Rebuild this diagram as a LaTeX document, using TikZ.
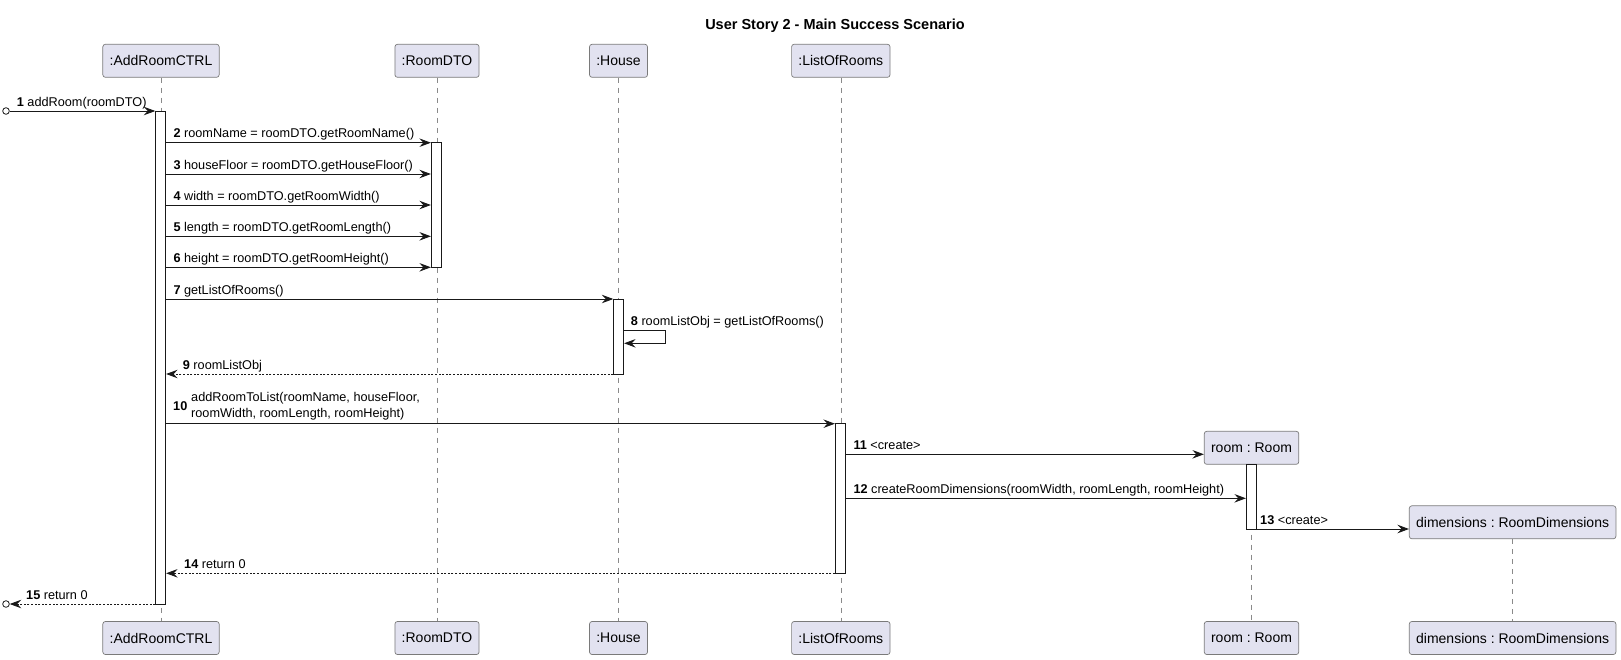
\documentclass[tikz,border=0pt]{standalone}
\usepackage{fontspec}
\setmainfont{Liberation Sans}
\usetikzlibrary{arrows.meta}
\definecolor{partfill}{HTML}{E2E2F0}
\definecolor{partline}{HTML}{7A7A7A}
\definecolor{lifecol}{HTML}{8A8A8A}
\frenchspacing
\begin{document}
\begin{tikzpicture}[x=1pt,y=-1pt,
  part/.style={draw=partline, fill=partfill, rounded corners=2.5pt, line width=0.7pt,
    inner xsep=6.8pt, inner ysep=0pt, minimum height=33pt, font=\fontsize{14}{16}\selectfont},
  life/.style={draw=lifecol, line width=0.6pt, dash pattern=on 5pt off 5pt},
  actbar/.style={draw=black!90, fill=white, line width=0.8pt, minimum width=10pt, inner sep=0pt},
  msg/.style={draw=black!90, line width=0.9pt, -{Stealth[length=11.5pt,width=8.5pt,inset=4pt]}},
  ret/.style={msg, dash pattern=on 2pt off 1.6pt},
  lbl/.style={font=\fontsize{12.7}{15}\selectfont, anchor=base west, inner sep=0pt},
  endpt/.style={draw=black!90, fill=white, line width=0.8pt, circle, minimum size=6.6pt, inner sep=0pt},
]
\useasboundingbox (0,0) rectangle (1621,659);

% title
\node[font=\fontsize{14.5}{17}\selectfont\bfseries] (title) at (835,25.7) {User Story 2 - Main Success Scenario};

% participants (top)
\node[part] (tA) at (161,60.8) {:AddRoomCTRL};
\node[part] (tD) at (437,60.8) {:RoomDTO};
\node[part] (tH) at (618.5,60.8) {:House};
\node[part] (tL) at (840.8,60.8) {:ListOfRooms};
\node[part] (tR) at (1251.5,447.8) {room : Room};
\node[part] (tM) at (1512.6,522.3) {dimensions : RoomDimensions};

% participants (bottom)
\node[part] (bA) at (161,638) {:AddRoomCTRL};
\node[part] (bD) at (437,638) {:RoomDTO};
\node[part] (bH) at (618.5,638) {:House};
\node[part] (bL) at (840.8,638) {:ListOfRooms};
\node[part] (bR) at (1251.5,638) {room : Room};
\node[part] (bM) at (1512.6,638) {dimensions : RoomDimensions};

% lifelines
\draw[life] (tA) -- (bA);
\draw[life] (tD) -- (bD);
\draw[life] (tH) -- (bH);
\draw[life] (tL) -- (bL);
\draw[life] (tR) -- (bR);
\draw[life] (tM) -- (bM);

% activation bars
\node[actbar, minimum height=493pt] (aA) at (160.7,357.5) {};
\node[actbar, minimum height=124.6pt] (aD) at (436.3,205) {};
\node[actbar, minimum height=75pt] (aH) at (618.7,336.5) {};
\node[actbar, minimum height=149.6pt] (aL) at (840.3,498.5) {};
\node[actbar, minimum height=65pt] (aR) at (1251.3,496.5) {};

% end points
\node[endpt] (e1) at (6,111) {};
\node[endpt] (e15) at (6,604) {};

% messages
\draw[msg] (e1.east) -- (aA.west |- 0,111);
\node[lbl] (l1) at (16.7,106) {\textbf{1} addRoom(roomDTO)};

\draw[msg] (aA.east |- 0,142.7) -- (aD.west |- 0,142.7);
\node[lbl] (l2) at (173.3,137.9) {\textbf{2} roomName = roomDTO.getRoomName()};

\draw[msg] (aA.east |- 0,174) -- (aD.west |- 0,174);
\node[lbl] (l3) at (173.3,169.2) {\textbf{3} houseFloor = roomDTO.getHouseFloor()};

\draw[msg] (aA.east |- 0,205) -- (aD.west |- 0,205);
\node[lbl] (l4) at (173.3,200.2) {\textbf{4} width = roomDTO.getRoomWidth()};

\draw[msg] (aA.east |- 0,236.3) -- (aD.west |- 0,236.3);
\node[lbl] (l5) at (173.3,231.5) {\textbf{5} length = roomDTO.getRoomLength()};

\draw[msg] (aA.east |- 0,267.3) -- (aD.west |- 0,267.3);
\node[lbl] (l6) at (173.3,262.5) {\textbf{6} height = roomDTO.getRoomHeight()};

\draw[msg] (aA.east |- 0,299) -- (aH.west |- 0,299);
\node[lbl] (l7) at (173.3,294.2) {\textbf{7} getListOfRooms()};

\coordinate (s8a) at (665.3,330.7);
\coordinate (s8b) at (665.3,343.3);
\draw[msg] (aH.east |- 0,330.7) -- (s8a) -- (s8b) -- (aH.east |- 0,343.3);
\node[lbl] (l8) at (630.7,325.6) {\textbf{8} roomListObj = getListOfRooms()};

\draw[ret] (aH.west |- 0,374) -- (aA.east |- 0,374);
\node[lbl] (l9) at (182.7,369.2) {\textbf{9} roomListObj};

\draw[msg] (aA.east |- 0,423.7) -- (aL.west |- 0,423.7);
\node[lbl] (l10n) at (173,410.5) {\textbf{10}};
\node[lbl] (l10a) at (191,401.3) {addRoomToList(roomName, houseFloor,};
\node[lbl] (l10b) at (191,417.8) {roomWidth, roomLength, roomHeight)};

\draw[msg] (aL.east |- 0,454.3) -- (tR.west |- 0,454.3);
\node[lbl] (l11) at (853.3,449.4) {\textbf{11} <create>};

\draw[msg] (aL.east |- 0,498.3) -- (aR.west |- 0,498.3);
\node[lbl] (l12) at (853.3,493.4) {\textbf{12} createRoomDimensions(roomWidth, roomLength, roomHeight)};

\draw[msg] (aR.east |- 0,529) -- (tM.west |- 0,529);
\node[lbl] (l13) at (1260,524) {\textbf{13} <create>};

\draw[ret] (aL.west |- 0,573.3) -- (aA.east |- 0,573.3);
\node[lbl] (l14) at (184,568.4) {\textbf{14} return 0};

\draw[ret] (aA.west |- 0,604) -- (e15.east);
\node[lbl] (l15) at (26,599) {\textbf{15} return 0};
\end{tikzpicture}
\end{document}
